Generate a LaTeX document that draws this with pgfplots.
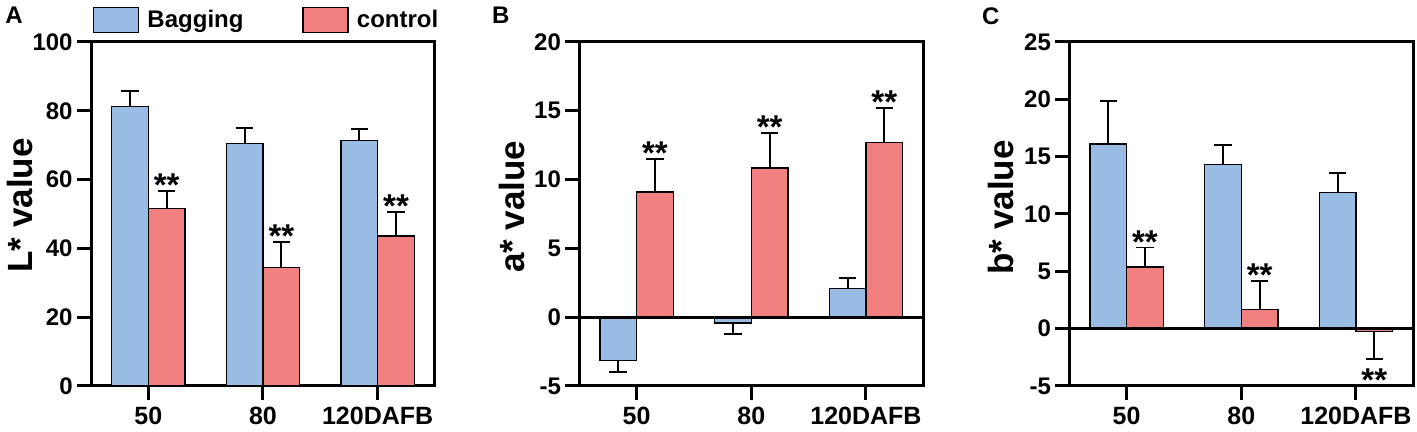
\documentclass[border=0pt]{standalone}
\usepackage{fontspec}
\setmainfont{Liberation Sans}
\usepackage{pgfplots}
\usepackage{pgfplotstable}
\pgfplotsset{compat=1.18}
\definecolor{bagblue}{RGB}{152,188,227}
\definecolor{ctrlred}{RGB}{242,128,128}
% x = bar centre, y = mean, ep/em = upper/lower error
\pgfplotstableread{
x y ep em
-0.16 81.2 4.6 0
0.84 70.5 4.4 0
1.84 71.4 3.4 0
}\Abag
\pgfplotstableread{
x y ep em
0.16 51.6 5.0 0
1.16 34.4 7.5 0
2.16 43.6 6.9 0
}\Actrl
\pgfplotstableread{
x y ep em
-0.16 -3.16 0 0.8
0.84 -0.41 0 0.8
1.84 2.07 0.8 0
}\Bbag
\pgfplotstableread{
x y ep em
0.16 9.09 2.43 0
1.16 10.86 2.51 0
2.16 12.68 2.55 0
}\Bctrl
\pgfplotstableread{
x y ep em
-0.16 16.12 3.75 0
0.84 14.31 1.69 0
1.84 11.87 1.74 0
}\Cbag
\pgfplotstableread{
x y ep em
0.16 5.36 1.71 0
1.16 1.66 2.48 0
2.16 -0.26 0 2.38
}\Cctrl
\tikzset{
 sigstar/.style={anchor=base, inner sep=0pt, font=\fontsize{16.5}{18}\selectfont\bfseries},
 plab/.style={anchor=north west, inner sep=0pt, font=\fontsize{12}{14}\selectfont\bfseries},
}
\pgfplotsset{
 panel/.style={
  scale only axis, width=172pt, height=172pt,
  anchor=south west,
  xmin=-0.5, xmax=2.5,
  xtick={0,1,2}, xticklabels={50,80,120DAFB},
  axis line style={line width=1.5pt, black},
  tick style={line width=1.5pt, black},
  major tick length=7pt,
  tick align=outside,
  tick pos=left,
  /pgf/number format/assume math mode=true,
  yticklabel style={font=\fontsize{12}{14}\selectfont\bfseries, inner xsep=2pt},
  xticklabel style={font=\fontsize{12.5}{14}\selectfont\bfseries},
  ylabel style={font=\fontsize{17.5}{20}\selectfont\bfseries, at={(axis description cs:0,0.5)}, anchor=center},
  clip=false,
 },
 barbase/.style={ybar, bar width=0.32, bar shift=0pt, draw=black, line width=0.75pt,
  legend image code/.code={\draw[##1, line width=0.75pt] (0pt,-6.2pt) rectangle (22.5pt,6.3pt);}},
 bagbar/.style={barbase, fill=bagblue},
 ctrlbar/.style={barbase, fill=ctrlred},
 errcommon/.style={forget plot, draw=none,
  error bars/y explicit,
  error bars/error mark=|,
  error bars/error bar style={draw=black, line width=0.9pt},
  error bars/error mark options={draw=black, line width=0.9pt, mark size=4.4pt}},
 errb/.style={errcommon, error bars/y dir=plus},
 errbm/.style={errcommon, error bars/y dir=minus},
}
\begin{document}
\begin{tikzpicture}
\useasboundingbox (0,0) rectangle (708.5pt,216pt);
% Panel A
\begin{axis}[panel, at={(45.5pt,23pt)}, ymin=0, ymax=100, ytick={0,20,...,100},
  ylabel={L* value}, ylabel style={xshift=4.25pt, yshift=35.75pt},
  legend columns=2, legend cell align=left,
  legend style={at={(rel axis cs:0,1)}, anchor=north west, xshift=1pt, yshift=17.5pt,
    draw=none, fill=none, inner sep=0pt, outer sep=0pt,
    font=\fontsize{12}{14}\selectfont\bfseries, nodes={inner sep=0pt},
    /tikz/every odd column/.append style={column sep=4pt},
    /tikz/every even column/.append style={column sep=29.5pt}}]
\addplot[bagbar] table[x=x,y=y] {\Abag};
\addlegendentry{Bagging}
\addplot[ctrlbar] table[x=x,y=y] {\Actrl};
\addlegendentry{control}
\addplot[errb] table[x=x,y=y,y error=ep] {\Abag};
\addplot[errb] table[x=x,y=y,y error=ep] {\Actrl};
\node[sigstar, yshift=-2.75pt] at (axis cs:0.16,56.6) {**};
\node[sigstar, yshift=-2.75pt] at (axis cs:1.16,41.9) {**};
\node[sigstar, yshift=-2.75pt] at (axis cs:2.16,50.5) {**};
\node[plab, xshift=-43pt, yshift=17.5pt] at (rel axis cs:0,1) {A};
\end{axis}
% Panel B
\begin{axis}[panel, at={(289.65pt,23pt)}, ymin=-5, ymax=20, ytick={-5,0,...,20},
  ylabel={a* value}, ylabel style={xshift=3.6pt, yshift=33.5pt}]
\addplot[bagbar] table[x=x,y=y] {\Bbag};
\addplot[ctrlbar] table[x=x,y=y] {\Bctrl};
\addplot[errbm, skip coords between index={2}{3}] table[x=x,y=y,y error=em] {\Bbag};
\addplot[errb, skip coords between index={0}{2}] table[x=x,y=y,y error=ep] {\Bbag};
\addplot[errb] table[x=x,y=y,y error=ep] {\Bctrl};
\addplot[black, line width=1.5pt, forget plot] coordinates {(-0.5,0) (2.5,0)};
\node[sigstar, yshift=-2.75pt] at (axis cs:0.16,11.52) {**};
\node[sigstar, yshift=-2.75pt] at (axis cs:1.16,13.37) {**};
\node[sigstar, yshift=-2.75pt] at (axis cs:2.16,15.23) {**};
\node[plab, xshift=-43.8pt, yshift=17.5pt] at (rel axis cs:0,1) {B};
\end{axis}
% Panel C
\begin{axis}[panel, at={(534.65pt,23pt)}, ymin=-5, ymax=25, ytick={-5,0,...,25},
  ylabel={b* value}, ylabel style={xshift=3.25pt, yshift=34pt}]
\addplot[bagbar] table[x=x,y=y] {\Cbag};
\addplot[ctrlbar] table[x=x,y=y] {\Cctrl};
\addplot[errb] table[x=x,y=y,y error=ep] {\Cbag};
\addplot[errb, skip coords between index={2}{3}] table[x=x,y=y,y error=ep] {\Cctrl};
\addplot[errbm, skip coords between index={0}{2}] table[x=x,y=y,y error=em] {\Cctrl};
\addplot[black, line width=1.5pt, forget plot] coordinates {(-0.5,0) (2.5,0)};
\node[sigstar, yshift=-2.75pt] at (axis cs:0.16,7.07) {**};
\node[sigstar, yshift=-2.75pt] at (axis cs:1.16,4.14) {**};
\node[sigstar, yshift=-16.3pt] at (axis cs:2.16,-2.64) {**};
\node[plab, xshift=-43.8pt, yshift=17.5pt] at (rel axis cs:0,1) {C};
\end{axis}
\end{tikzpicture}
\end{document}
